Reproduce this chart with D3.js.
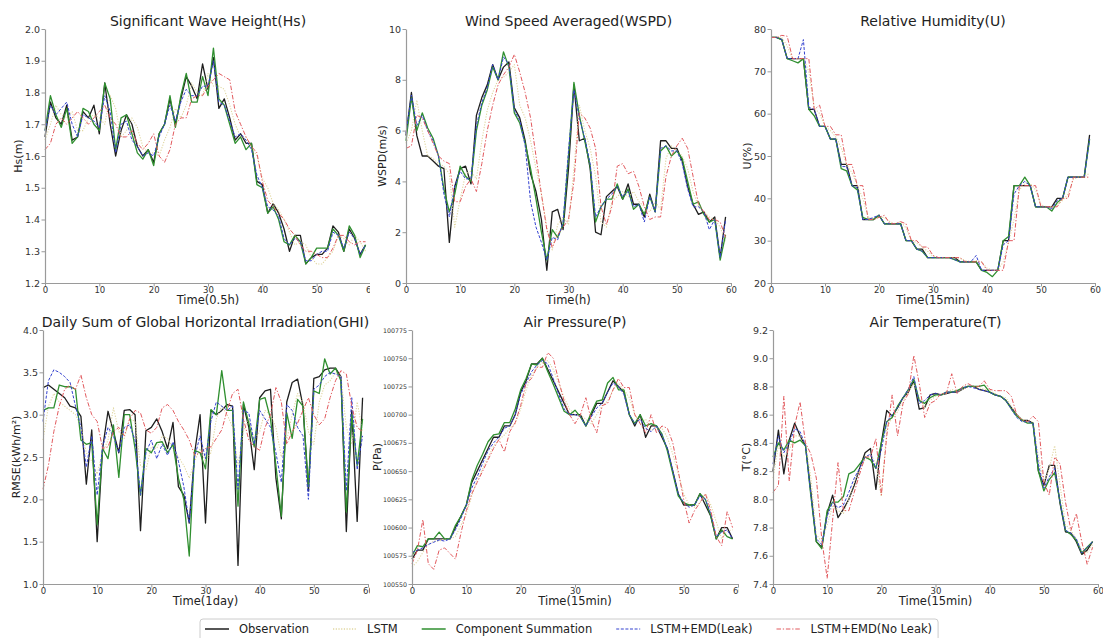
<!DOCTYPE html>
<html>
<head>
<meta charset="utf-8">
<script src="https://cdn.jsdelivr.net/npm/d3@7"></script>
<style>
  body { margin: 0; background: #fff; }
  svg { font-family: "DejaVu Sans", sans-serif; }
</style>
</head>
<body>
<div id="chart"></div>
<script>
// ---- data (60 steps per series) ----
var xTicks = [0, 10, 20, 30, 40, 50, 60]
var seriesNames = ['Observation', 'LSTM', 'Component Summation', 'LSTM+EMD(Leak)', 'LSTM+EMD(No Leak)']

// Significant wave height
var hsObs = [1.66,1.77,1.72,1.70,1.76,1.65,1.66,1.74,1.72,1.76,1.67,1.83,1.70,1.60,1.68,1.73,1.70,1.63,1.60,1.62,1.58,1.67,1.70,1.78,1.70,1.78,1.85,1.82,1.78,1.89,1.81,1.91,1.75,1.78,1.72,1.65,1.67,1.64,1.64,1.52,1.51,1.42,1.45,1.42,1.37,1.30,1.35,1.35,1.26,1.28,1.29,1.29,1.31,1.38,1.36,1.30,1.37,1.34,1.29,1.32]
var hsLstm = [1.65,1.70,1.76,1.73,1.72,1.74,1.68,1.68,1.72,1.73,1.72,1.70,1.79,1.75,1.66,1.68,1.72,1.69,1.63,1.61,1.61,1.60,1.65,1.69,1.75,1.72,1.76,1.83,1.80,1.79,1.86,1.82,1.82,1.81,1.76,1.70,1.66,1.66,1.63,1.60,1.53,1.50,1.45,1.43,1.40,1.36,1.32,1.33,1.32,1.28,1.26,1.26,1.28,1.30,1.35,1.34,1.32,1.35,1.33,1.30]
var hsComp = [1.68,1.79,1.73,1.69,1.75,1.64,1.66,1.75,1.74,1.70,1.68,1.83,1.78,1.62,1.72,1.73,1.67,1.61,1.59,1.62,1.57,1.67,1.70,1.79,1.69,1.79,1.86,1.77,1.77,1.85,1.79,1.94,1.78,1.76,1.70,1.64,1.66,1.62,1.64,1.51,1.50,1.42,1.44,1.40,1.33,1.32,1.35,1.33,1.26,1.28,1.31,1.31,1.31,1.37,1.35,1.30,1.38,1.35,1.28,1.32]
var hsLeak = [1.68,1.76,1.73,1.75,1.77,1.70,1.66,1.73,1.72,1.71,1.69,1.79,1.74,1.61,1.70,1.71,1.65,1.63,1.60,1.61,1.60,1.66,1.70,1.76,1.71,1.77,1.81,1.79,1.79,1.82,1.82,1.90,1.77,1.76,1.71,1.66,1.67,1.65,1.62,1.54,1.50,1.44,1.43,1.41,1.34,1.32,1.34,1.33,1.27,1.27,1.29,1.30,1.30,1.36,1.35,1.31,1.36,1.34,1.29,1.32]
var hsNoLeak = [1.62,1.64,1.70,1.72,1.70,1.72,1.74,1.72,1.70,1.72,1.74,1.76,1.72,1.70,1.66,1.66,1.68,1.64,1.62,1.64,1.67,1.60,1.58,1.62,1.70,1.72,1.72,1.78,1.79,1.79,1.82,1.84,1.86,1.85,1.84,1.74,1.70,1.66,1.63,1.61,1.52,1.46,1.44,1.42,1.40,1.37,1.35,1.32,1.30,1.30,1.29,1.28,1.28,1.31,1.35,1.35,1.33,1.32,1.33,1.33]

// Wind speed
var wsObs = [5.8,7.5,5.8,5.0,5.0,4.8,4.6,4.5,1.6,3.8,4.5,4.6,3.9,6.6,7.3,7.8,8.6,8.0,8.5,8.7,6.9,6.5,5.6,4.3,3.6,2.5,0.5,2.8,2.9,2.1,4.5,7.8,5.6,5.7,4.5,2.0,1.9,3.4,3.6,3.8,3.3,3.9,3.1,3.1,2.6,3.5,2.8,5.6,5.6,5.3,5.3,4.8,3.8,3.1,2.7,2.8,2.4,2.6,1.0,2.6]
var wsLstm = [5.5,6.0,7.2,6.0,5.0,4.9,4.7,4.6,4.3,2.2,3.3,4.3,4.4,4.1,5.6,6.8,7.5,8.0,8.1,8.3,8.6,7.0,6.5,5.6,4.5,3.5,2.2,1.3,2.3,2.6,2.3,4.5,7.0,6.0,5.3,4.2,2.4,2.2,3.2,3.4,3.6,3.4,3.6,3.2,3.0,2.8,3.2,2.9,4.9,5.4,5.2,5.0,4.5,3.6,3.0,2.8,2.6,2.5,2.2,1.6]
var wsComp = [5.6,7.3,6.0,6.7,6.1,5.7,5.0,3.7,2.8,3.5,4.6,4.2,4.0,6.0,7.0,7.6,8.5,8.0,9.1,8.5,6.7,6.3,5.5,4.5,3.3,2.0,0.9,2.1,1.8,2.3,5.0,7.9,6.6,5.6,4.6,2.4,3.0,3.3,3.3,3.9,3.3,3.7,2.9,3.1,2.7,3.4,2.8,5.2,5.4,5.0,5.2,4.9,4.0,3.1,3.2,2.7,2.4,2.5,0.9,1.9]
var wsLeak = [5.9,7.4,6.2,6.6,6.0,5.6,5.0,3.5,2.6,3.8,4.4,4.1,4.1,6.2,7.1,7.7,8.6,8.0,8.9,8.6,6.8,6.4,5.4,3.2,2.2,1.6,0.9,1.8,1.7,2.4,5.2,7.6,6.5,5.7,4.7,2.6,3.0,3.3,3.5,3.8,3.4,3.6,3.0,3.1,2.4,3.4,2.8,5.3,5.4,5.2,5.2,4.7,3.7,3.0,3.0,2.8,2.1,2.5,1.0,2.5]
var wsNoLeak = [5.3,5.4,6.6,6.5,6.0,5.5,5.0,4.8,4.7,3.2,3.2,3.8,4.1,3.6,4.7,6.0,7.0,7.8,8.2,8.5,9.0,8.3,7.5,6.5,5.0,3.5,2.1,1.4,1.9,2.2,2.5,4.0,6.7,6.5,6.1,5.3,3.0,2.3,3.0,4.6,4.7,4.3,4.4,3.8,3.0,2.5,2.6,2.6,4.2,5.0,5.4,5.7,5.3,4.2,3.1,2.8,2.5,2.5,2.4,1.8]

// Relative humidity
var uObs = [78,78,77.5,73,73,73,73,61,61,57,57,54,54,48,48,43,43,35,35,35,36,34,34,34,34,30,30,28,28,26,26,26,26,26,26,25,25,25,25,23,23,23,23,30,30,43,43,43,43,38,38,38,38,40,40,45,45,45,45,55]
var uLstm = [78,78,78,76,73,73,73,70,61.5,60,57,56,54.5,52,48,46,43,40,35.5,35,35.5,35.5,34.5,34,34.5,33,30,29.5,28.5,27.5,26.3,26,26,26,26,25.8,25.3,25,25.3,25,23.5,23,23,25,29.5,35,42,43.5,43.5,42,38.5,38,38,38.5,39.5,41,44.5,45,45,46]
var uComp = [78,78,77.5,73,72.5,72,73,61,59.5,57,57,54,54,47,46.5,43,42,35.5,35,35,36,34,34,34,34,30,30,28,27.5,26,26,26,26,26,25.5,25,25,25,25,23,22.5,21.5,23,30,31,43,43,45,43,38,38,38,37,39,40,45,45,45,45,54]
var uLeak = [78,78,77.5,73,73,73,77.5,61.5,61,57,57,54,54,47.5,47.5,43,42.5,35,35,35.5,36,34,34,34,34,30,30,28,27.5,26,26,26,26,26,25.5,25,25,25,26.5,23,23,23,23,29,30,41,43,44,43,38,38,38,37.5,39.5,40,45,45,45,45,54]
var uNoLeak = [78,78,78.5,78.3,73,73,73,73,61,62,57,57,55,55,48,48,43,43,35,35,35.5,36,34,34,34.5,34,30,30,28.5,28.5,26.5,26,26,26,26,26,25,25,25,25,23,23,23,23,30,30,43,43,43,43,38,38,38,38,40,40,45,45,45,45]

// Daily sum of GHI
var ghiObs = [3.32,3.35,3.30,3.25,3.20,3.10,3.08,2.98,2.18,2.82,1.50,2.60,3.04,2.80,2.55,3.05,3.06,3.00,1.63,2.81,2.85,2.95,2.80,2.60,2.91,2.15,2.05,1.72,2.55,3.00,1.72,3.05,3.00,3.05,3.12,3.10,1.22,3.12,2.85,2.35,3.20,3.28,3.30,2.25,1.77,3.15,3.38,3.42,3.10,2.10,3.43,3.45,3.53,3.55,3.55,3.45,1.62,3.05,1.74,3.20]
var ghiLstm = [2.70,3.10,3.25,3.15,3.10,3.05,3.00,2.85,2.55,2.45,2.30,2.55,2.70,3.08,2.80,2.72,2.95,2.92,2.40,2.35,2.62,2.60,2.75,2.72,2.60,2.50,2.40,2.25,2.45,2.60,2.45,2.55,2.95,3.10,3.00,2.85,2.40,2.80,2.95,2.70,2.80,3.05,3.00,2.85,2.50,2.70,3.00,3.25,3.15,2.80,2.65,3.15,3.35,3.40,3.50,3.45,2.85,2.65,3.15,2.80]
var ghiComp = [3.05,3.08,3.08,3.35,3.33,3.33,3.30,2.70,2.65,2.67,1.70,2.60,2.48,2.88,2.26,3.00,3.00,2.60,2.05,2.60,2.55,2.67,2.68,2.55,2.65,2.25,2.00,1.33,2.58,2.55,2.36,3.06,3.00,3.52,3.05,3.05,1.92,3.15,2.90,2.62,3.18,3.20,2.95,2.40,1.80,3.02,2.72,3.18,3.10,2.15,3.28,3.25,3.66,3.48,3.55,3.40,1.85,3.00,2.40,2.95]
var ghiLeak = [2.92,3.40,3.53,3.50,3.45,3.38,3.10,2.85,2.38,2.75,2.05,2.62,2.85,2.75,2.55,2.85,2.88,2.70,2.05,2.55,2.70,2.48,2.65,2.52,2.68,2.45,2.15,1.72,2.50,2.75,2.48,2.92,3.15,3.10,3.05,3.10,2.12,3.05,3.02,2.65,3.05,2.95,2.85,2.55,2.20,3.12,3.05,2.85,2.75,2.00,3.30,3.35,3.45,3.50,3.48,3.45,2.10,3.20,2.35,2.75]
var ghiNoLeak = [2.12,2.40,2.80,3.10,3.30,3.35,3.30,3.47,3.20,3.00,2.92,2.60,2.62,2.80,2.85,2.75,2.95,3.05,3.02,2.82,2.78,2.85,3.08,3.12,3.05,2.92,2.82,2.70,2.52,2.55,2.60,2.62,2.72,2.82,3.05,3.25,3.30,2.95,2.70,2.62,2.58,2.85,3.00,3.32,3.15,2.65,2.80,2.90,3.05,3.20,3.00,2.88,2.95,3.20,3.40,3.52,3.48,3.10,2.85,2.80]

// Air pressure
var pObs = [100572,100580,100580,100590,100590,100590,100590,100590,100600,100610,100620,100640,100650,100660,100670,100680,100680,100690,100690,100700,100720,100730,100745,100745,100750,100740,100730,100720,100710,100700,100700,100700,100690,100700,100710,100710,100720,100730,100725,100720,100700,100690,100700,100680,100690,100690,100680,100670,100650,100630,100620,100620,100620,100630,100620,100610,100590,100600,100600,100590]
var pLstm = [100565,100570,100578,100585,100588,100588,100590,100590,100592,100602,100612,100628,100642,100652,100662,100672,100678,100682,100688,100692,100705,100722,100735,100742,100746,100748,100740,100728,100715,100705,100700,100700,100696,100692,100700,100708,100712,100722,100728,100722,100715,100700,100693,100696,100686,100688,100688,100680,100665,100648,100630,100620,100618,100622,100630,100620,100605,100590,100597,100598]
var pComp = [100575,100584,100583,100590,100590,100596,100590,100590,100602,100610,100620,100642,100655,100665,100676,100682,100683,100693,100693,100705,100722,100732,100745,100744,100750,100738,100727,100715,100703,100700,100704,100698,100690,100702,100712,100713,100728,100733,100722,100722,100700,100692,100700,100690,100692,100690,100683,100668,100648,100628,100622,100620,100620,100630,100625,100610,100590,100598,100592,100590]
var pLeak = [100578,100580,100582,100585,100587,100589,100588,100590,100598,100608,100620,100635,100645,100657,100668,100675,100680,100688,100690,100700,100718,100728,100738,100744,100748,100745,100732,100718,100705,100700,100700,100698,100690,100698,100706,100710,100720,100728,100725,100718,100700,100692,100696,100688,100685,100690,100682,100670,100650,100630,100622,100618,100620,100628,100625,100612,100592,100596,100598,100590]
var pNoLeak = [100568,100580,100607,100568,100563,100580,100582,100577,100572,100595,100615,100630,100640,100650,100660,100670,100678,100667,100685,100693,100708,100728,100732,100742,100742,100755,100750,100730,100712,100700,100692,100700,100715,100695,100684,100708,100710,100722,100732,100724,100724,100700,100692,100684,100700,100684,100690,100688,100675,100650,100625,100604,100615,100622,100630,100615,100592,100584,100614,100600]

// Air temperature
var tObs = [8.20,8.49,8.18,8.42,8.54,8.45,8.38,8.05,7.70,7.66,7.90,8.03,7.87,7.93,8.00,8.10,8.22,8.33,8.36,8.07,8.40,8.63,8.59,8.65,8.72,8.76,8.84,8.64,8.65,8.74,8.75,8.74,8.75,8.76,8.76,8.78,8.80,8.80,8.78,8.77,8.76,8.74,8.73,8.70,8.65,8.60,8.56,8.56,8.54,8.20,8.10,8.24,8.24,7.97,7.77,7.76,7.70,7.61,7.64,7.70]
var tLstm = [8.15,8.38,8.30,8.35,8.45,8.45,8.40,8.15,7.75,7.70,7.82,7.95,7.92,7.90,8.00,8.12,8.22,8.28,8.32,8.25,8.02,8.50,8.58,8.62,8.70,8.76,8.82,8.72,8.65,8.70,8.73,8.74,8.75,8.78,8.76,8.78,8.80,8.80,8.79,8.78,8.77,8.75,8.73,8.72,8.66,8.60,8.57,8.55,8.55,8.30,8.12,8.22,8.38,8.10,7.82,7.78,7.72,7.64,7.62,7.68]
var tComp = [8.30,8.40,8.35,8.42,8.40,8.42,8.38,8.02,7.70,7.65,7.92,7.98,7.98,8.02,8.18,8.20,8.25,8.30,8.28,8.22,8.40,8.55,8.58,8.66,8.72,8.78,8.85,8.70,8.68,8.72,8.74,8.74,8.76,8.76,8.77,8.79,8.80,8.80,8.80,8.81,8.76,8.74,8.73,8.70,8.64,8.59,8.56,8.54,8.54,8.20,8.06,8.14,8.19,7.98,7.78,7.75,7.71,7.62,7.66,7.70]
var tLeak = [8.25,8.45,8.33,8.40,8.50,8.48,8.38,8.03,7.72,7.68,7.88,7.98,7.94,7.96,8.05,8.15,8.22,8.30,8.32,8.22,8.35,8.55,8.60,8.65,8.72,8.78,8.87,8.68,8.70,8.74,8.75,8.74,8.76,8.76,8.76,8.79,8.80,8.79,8.78,8.77,8.76,8.74,8.73,8.70,8.64,8.58,8.55,8.55,8.54,8.25,8.08,8.16,8.22,7.98,7.78,7.76,7.72,7.62,7.66,7.70]
var tNoLeak = [8.05,8.10,8.73,8.13,8.52,8.69,8.40,8.32,8.15,7.72,7.44,7.85,8.26,7.92,7.92,8.05,8.18,8.30,8.30,8.43,8.03,8.45,8.74,8.45,8.68,8.75,9.02,8.82,8.58,8.68,8.70,8.75,8.75,8.89,8.75,8.80,8.82,8.80,8.80,8.84,8.78,8.77,8.77,8.77,8.73,8.60,8.56,8.55,8.59,8.55,8.12,8.03,8.30,8.25,7.98,7.78,7.90,7.70,7.54,7.66]

// ---- layout ----
var width = 1103
var height = 638

var styles = [
    { color: '#1e1e1e', width: 1.3, dash: null },          // Observation
    { color: '#e0d6a0', width: 1.1, dash: '1.2,1.5' },     // LSTM
    { color: '#2f8f2f', width: 1.3, dash: null },          // Component Summation
    { color: '#3442d0', width: 1.0, dash: '3,1.6' },       // Leak
    { color: '#e25a5e', width: 1.0, dash: '4.5,1.8,1.3,1.8' }  // No Leak
]

var panels = [
    { title: 'Significant Wave Height(Hs)', ylabel: 'Hs(m)', xlabel: 'Time(0.5h)',
      x0: 45, x1: 371, top: 29, bot: 283, ylabOff: 27, clip: 370,
      domain: [1.2, 2.0], ticks: d3.range(1.2, 2.01, 0.1), fmt: d3.format('.1f'), tickSize: 9.5,
      data: [hsObs, hsLstm, hsComp, hsLeak, hsNoLeak] },
    { title: 'Wind Speed Averaged(WSPD)', ylabel: 'WSPD(m/s)', xlabel: 'Time(h)',
      x0: 406, x1: 731, top: 29, bot: 283, ylabOff: 24,
      domain: [0, 10], ticks: [0, 2, 4, 6, 8, 10], fmt: d3.format('d'), tickSize: 9.5,
      data: [wsObs, wsLstm, wsComp, wsLeak, wsNoLeak] },
    { title: 'Relative Humidity(U)', ylabel: 'U(%)', xlabel: 'Time(15min)',
      x0: 771, x1: 1095, top: 29, bot: 283, ylabOff: 24,
      domain: [20, 80], ticks: [20, 30, 40, 50, 60, 70, 80], fmt: d3.format('d'), tickSize: 9.5,
      data: [uObs, uLstm, uComp, uLeak, uNoLeak] },
    { title: 'Daily Sum of Global Horizontal Irradiation(GHI)', ylabel: 'RMSE(kWh/m²)', xlabel: 'Time(1day)',
      x0: 43, x1: 368, top: 330, bot: 584, ylabOff: 27, clip: 370,
      domain: [1.0, 4.0], ticks: [1.0, 1.5, 2.0, 2.5, 3.0, 3.5, 4.0], fmt: d3.format('.1f'), tickSize: 9.5,
      data: [ghiObs, ghiLstm, ghiComp, ghiLeak, ghiNoLeak] },
    { title: 'Air Pressure(P)', ylabel: 'P(Pa)', xlabel: 'Time(15min)',
      x0: 412, x1: 738, top: 330, bot: 584, ylabOff: 35, clip: 739,
      domain: [100550, 100775], ticks: d3.range(100550, 100776, 25), fmt: d3.format('d'), tickSize: 6.3,
      data: [pObs, pLstm, pComp, pLeak, pNoLeak] },
    { title: 'Air Temperature(T)', ylabel: 'T(°C)', xlabel: 'Time(15min)',
      x0: 773, x1: 1098, top: 330, bot: 584, ylabOff: 27,
      domain: [7.4, 9.2], ticks: d3.range(7.4, 9.21, 0.2), fmt: d3.format('.1f'), tickSize: 9.5,
      data: [tObs, tLstm, tComp, tLeak, tNoLeak] }
]

var svg = d3.select('#chart')
    .append('svg')
    .attr('width', width)
    .attr('height', height)

svg.append('rect').attr('width', width).attr('height', height).attr('fill', '#fff')

var defs = svg.append('defs')

panels.forEach(function (p, pi) {
    var g = svg.append('g')

    // some panels were cut at the right edge in the original figure
    if (p.clip) {
        defs.append('clipPath').attr('id', 'clip' + pi)
            .append('rect').attr('x', 0).attr('y', 0).attr('width', p.clip).attr('height', height)
        g.attr('clip-path', 'url(#clip' + pi + ')')
    }

    var x = d3.scaleLinear().domain([0, 60]).range([p.x0, p.x1])
    var y = d3.scaleLinear().domain(p.domain).range([p.bot, p.top])

    // lines, in legend order
    p.data.forEach(function (vals, si) {
        var s = styles[si]
        var line = d3.line()
            .x(function (d, i) { return x(i) })
            .y(function (d) { return y(d) })
        g.append('path')
            .datum(vals)
            .attr('d', line)
            .attr('fill', 'none')
            .attr('stroke', s.color)
            .attr('stroke-width', s.width)
            .attr('stroke-dasharray', s.dash)
            .attr('stroke-linejoin', 'round')
    })

    // x axis
    var xAxis = g.append('g')
        .attr('transform', 'translate(0,' + p.bot + ')')
        .call(d3.axisBottom(x).tickValues(xTicks).tickSizeInner(3.5).tickSizeOuter(0).tickPadding(0.5))
    xAxis.selectAll('text').attr('font-size', 8.5).attr('fill', '#333').attr('font-family', 'DejaVu Sans')

    // y axis
    var yAxis = g.append('g')
        .attr('transform', 'translate(' + p.x0 + ',0)')
        .call(d3.axisLeft(y).tickValues(p.ticks).tickFormat(p.fmt).tickSizeInner(3.5).tickSizeOuter(0).tickPadding(1.5))
    yAxis.selectAll('text').attr('font-size', p.tickSize).attr('fill', '#333').attr('font-family', 'DejaVu Sans')

    g.selectAll('.domain').attr('stroke', '#9a9a9a').attr('stroke-width', 1.2)
    g.selectAll('.tick line').attr('stroke', '#9a9a9a')

    // titles and axis labels
    g.append('text')
        .attr('x', (p.x0 + p.x1) / 2)
        .attr('y', p.top - 3)
        .attr('text-anchor', 'middle')
        .attr('font-size', 14)
        .attr('fill', '#222')
        .text(p.title)

    g.append('text')
        .attr('x', (p.x0 + p.x1) / 2)
        .attr('y', p.bot + 21)
        .attr('text-anchor', 'middle')
        .attr('font-size', 11.5)
        .attr('fill', '#222')
        .text(p.xlabel)

    g.append('text')
        .attr('transform', 'translate(' + (p.x0 - p.ylabOff) + ',' + (p.top + p.bot) / 2 + ') rotate(-90)')
        .attr('text-anchor', 'middle')
        .attr('dominant-baseline', 'central')
        .attr('font-size', 11)
        .attr('fill', '#222')
        .text(p.ylabel)
})

// legend
var legend = svg.append('g')
var lx = 205
var legendY = 629
seriesNames.forEach(function (name, i) {
    var s = styles[i]
    var item = legend.append('g')
    item.append('line')
        .attr('x1', lx).attr('x2', lx + 24)
        .attr('y1', legendY).attr('y2', legendY)
        .attr('stroke', s.color)
        .attr('stroke-width', s.width + 0.2)
        .attr('stroke-dasharray', s.dash)
    var t = item.append('text')
        .attr('x', lx + 34)
        .attr('y', legendY)
        .attr('dominant-baseline', 'central')
        .attr('font-size', 11.5)
        .attr('fill', '#222')
        .text(name)
    lx = lx + 34 + t.node().getComputedTextLength() + 24
})
legend.insert('rect', ':first-child')
    .attr('x', 200).attr('y', 619)
    .attr('width', lx - 24 + 6 - 200).attr('height', 26)
    .attr('rx', 3)
    .attr('fill', '#fff')
    .attr('stroke', '#cccccc')
</script>
</body>
</html>
